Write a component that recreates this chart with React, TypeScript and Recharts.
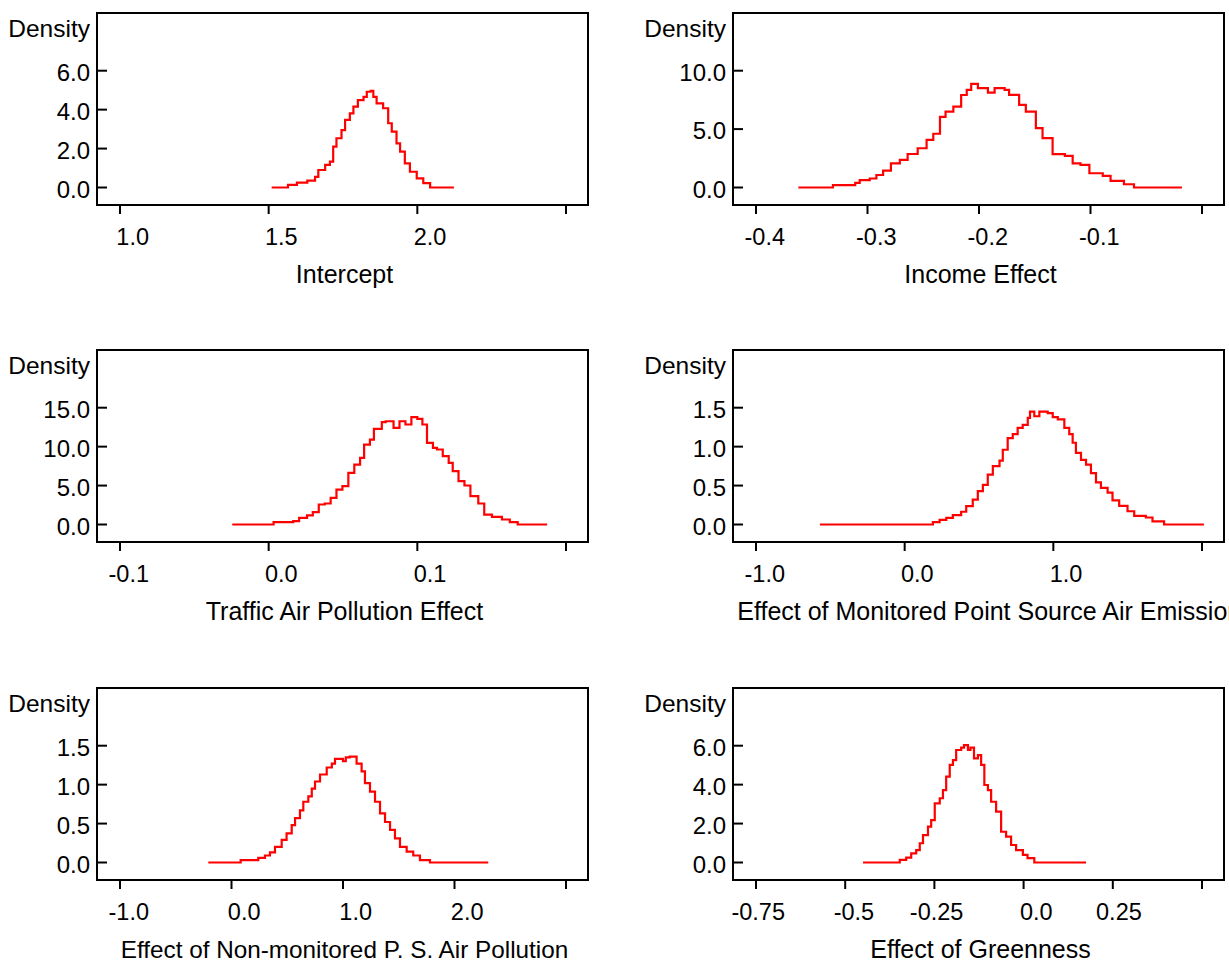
import React from 'react';
import { LineChart, Line, XAxis, YAxis, ReferenceArea } from 'recharts';

const FONT = '"Liberation Sans", Arial, Helvetica, sans-serif';

// Intercept
const interceptX = [1.51, 1.565, 1.595, 1.63, 1.656, 1.667, 1.69, 1.706, 1.717, 1.728, 1.745, 1.757, 1.773, 1.785, 1.8, 1.819, 1.83, 1.843, 1.852, 1.863, 1.885, 1.902, 1.914, 1.93, 1.942, 1.958, 1.975, 1.998, 2.02, 2.043, 2.123];
const interceptDensity = [0, 0.13, 0.25, 0.35, 0.55, 0.9, 1.16, 1.33, 2.1, 2.53, 2.95, 3.47, 3.81, 4.15, 4.49, 4.66, 4.92, 4.97, 4.66, 4.32, 4.07, 3.3, 2.87, 2.27, 1.84, 1.24, 0.81, 0.47, 0.22, 0, 0];
const interceptXTicks = [1.0, 1.5, 2.0, 2.5];
const interceptXLabels = ['1.0', '1.5', '2.0', ''];
const interceptYTicks = [0, 2, 4, 6];
const interceptYLabels = ['0.0', '2.0', '4.0', '6.0'];

// Income Effect
const incomeX = [-0.362, -0.331, -0.311, -0.307, -0.298, -0.292, -0.286, -0.279, -0.271, -0.264, -0.255, -0.247, -0.241, -0.235, -0.23, -0.223, -0.216, -0.211, -0.207, -0.201, -0.192, -0.186, -0.177, -0.173, -0.164, -0.158, -0.149, -0.143, -0.134, -0.123, -0.116, -0.109, -0.101, -0.089, -0.082, -0.07, -0.061, -0.018];
const incomeDensity = [0, 0.2, 0.39, 0.63, 0.77, 1.07, 1.44, 2.07, 2.36, 2.87, 3.36, 4.07, 4.6, 6.05, 6.5, 6.93, 7.92, 8.36, 8.87, 8.51, 8.13, 8.51, 8.36, 7.93, 7.08, 6.5, 5.08, 4.22, 2.86, 2.7, 2.07, 1.93, 1.22, 0.99, 0.57, 0.28, 0, 0];
const incomeXTicks = [-0.4, -0.3, -0.2, -0.1, 0.0];
const incomeXLabels = ['-0.4', '-0.3', '-0.2', '-0.1', ''];
const incomeYTicks = [0, 5, 10];
const incomeYLabels = ['0.0', '5.0', '10.0'];

// Traffic Air Pollution Effect
const trafficX = [-0.0245, 0.0033, 0.0112, 0.0165, 0.0205, 0.0258, 0.0297, 0.0337, 0.0377, 0.0417, 0.0456, 0.0496, 0.0536, 0.0576, 0.0615, 0.0642, 0.0681, 0.0708, 0.0761, 0.0787, 0.084, 0.088, 0.092, 0.096, 0.1, 0.1034, 0.1065, 0.1105, 0.1132, 0.1171, 0.1211, 0.1238, 0.1277, 0.1317, 0.1357, 0.141, 0.145, 0.1502, 0.1569, 0.1622, 0.1675, 0.1873];
const trafficDensity = [0, 0.3, 0.3, 0.43, 0.86, 1.16, 1.58, 2.57, 2.7, 3.42, 4.49, 4.92, 6.63, 7.7, 8.56, 10.27, 10.91, 12.28, 13.14, 13.26, 12.41, 13.26, 12.84, 13.78, 13.56, 12.84, 10.48, 9.84, 9.63, 8.77, 7.92, 6.85, 5.56, 5.01, 3.64, 2.7, 1.28, 0.98, 0.64, 0.3, 0, 0];
const trafficXTicks = [-0.1, 0.0, 0.1, 0.2];
const trafficXLabels = ['-0.1', '0.0', '0.1', ''];
const trafficYTicks = [0, 5, 10, 15];
const trafficYLabels = ['0.0', '5.0', '10.0', '15.0'];

// Effect of Monitored Point Source Air Emissions
const monitoredX = [-0.57, 0.19, 0.235, 0.28, 0.324, 0.38, 0.414, 0.458, 0.492, 0.526, 0.559, 0.593, 0.638, 0.66, 0.693, 0.727, 0.76, 0.794, 0.828, 0.843, 0.872, 0.906, 0.962, 0.996, 1.03, 1.074, 1.107, 1.13, 1.152, 1.186, 1.22, 1.253, 1.287, 1.32, 1.365, 1.398, 1.443, 1.499, 1.544, 1.622, 1.667, 1.745, 2.013];
const monitoredDensity = [0, 0.03, 0.06, 0.086, 0.12, 0.164, 0.236, 0.32, 0.428, 0.51, 0.64, 0.75, 0.82, 0.96, 1.11, 1.16, 1.24, 1.28, 1.37, 1.45, 1.39, 1.45, 1.43, 1.38, 1.35, 1.24, 1.16, 1.05, 0.92, 0.83, 0.77, 0.66, 0.54, 0.47, 0.41, 0.31, 0.24, 0.17, 0.11, 0.09, 0.04, 0, 0];
const monitoredXTicks = [-1.0, 0.0, 1.0, 2.0];
const monitoredXLabels = ['-1.0', '0.0', '1.0', ''];
const monitoredYTicks = [0, 0.5, 1.0, 1.5];
const monitoredYLabels = ['0.0', '0.5', '1.0', '1.5'];

// Effect of Non-monitored P. S. Air Pollution
const nonMonitoredX = [-0.208, 0.082, 0.24, 0.3, 0.345, 0.39, 0.45, 0.494, 0.54, 0.57, 0.614, 0.644, 0.689, 0.72, 0.749, 0.794, 0.854, 0.9, 0.928, 1.0, 1.025, 1.06, 1.122, 1.167, 1.197, 1.242, 1.287, 1.332, 1.377, 1.422, 1.466, 1.511, 1.571, 1.63, 1.69, 1.78, 2.303];
const nonMonitoredDensity = [0, 0.03, 0.06, 0.09, 0.13, 0.2, 0.29, 0.375, 0.48, 0.57, 0.67, 0.78, 0.85, 0.95, 1.04, 1.13, 1.22, 1.27, 1.33, 1.3, 1.35, 1.36, 1.27, 1.17, 1.02, 0.91, 0.78, 0.63, 0.52, 0.42, 0.31, 0.2, 0.14, 0.09, 0.03, 0, 0];
const nonMonitoredXTicks = [-1.0, 0.0, 1.0, 2.0, 3.0];
const nonMonitoredXLabels = ['-1.0', '0.0', '1.0', '2.0', ''];
const nonMonitoredYTicks = [0, 0.5, 1.0, 1.5];
const nonMonitoredYLabels = ['0.0', '0.5', '1.0', '1.5'];

// Effect of Greenness
const greenX = [-0.45, -0.347, -0.329, -0.315, -0.301, -0.291, -0.282, -0.268, -0.259, -0.249, -0.235, -0.226, -0.217, -0.207, -0.198, -0.189, -0.175, -0.167, -0.156, -0.149, -0.139, -0.128, -0.119, -0.11, -0.1, -0.091, -0.077, -0.063, -0.049, -0.035, -0.021, -0.002, 0.011, 0.03, 0.175];
const greenDensity = [0, 0.13, 0.25, 0.47, 0.64, 0.99, 1.41, 1.84, 2.18, 3.04, 3.3, 3.72, 4.41, 5.01, 5.26, 5.78, 5.9, 6.03, 5.78, 5.9, 5.35, 5.52, 5.01, 3.98, 3.72, 3.12, 2.61, 1.58, 1.33, 0.9, 0.64, 0.39, 0.22, 0, 0];
const greenXTicks = [-0.75, -0.5, -0.25, 0.0, 0.25, 0.5];
const greenXLabels = ['-0.75', '-0.5', '-0.25', '0.0', '0.25', ''];
const greenYTicks = [0, 2, 4, 6];
const greenYLabels = ['0.0', '2.0', '4.0', '6.0'];

type PanelProps = {
  title: string;
  xs: number[];
  ys: number[];
  xTicks: number[];
  xLabels: string[];
  yTicks: number[];
  yLabels: string[];
  left: number;
  top: number;
  width: number;
  titleDx?: number;
  titleSize?: number;
};

function Panel({ title, xs, ys, xTicks, xLabels, yTicks, yLabels, left, top, width, titleDx = 2, titleSize = 25 }: PanelProps) {
  const data = xs.map((x, i) => ({ x, d: ys[i] }));
  const xSpan = xTicks[xTicks.length - 1] - xTicks[0];
  const xDomain = [xTicks[0] - (xSpan * 23) / 446, xTicks[xTicks.length - 1] + (xSpan * 22) / 446];
  const yTop = yTicks[yTicks.length - 1];
  const yDomain = [-yTop * 0.1498, yTop * 1.494];

  const xTick = (props: any) => {
    const i = xTicks.indexOf(props.payload.value);
    return (
      <text x={props.x + 29} y={props.y + 31} textAnchor="end" fontSize={23.5} fontFamily={FONT} fill="#000">
        {xLabels[i] ?? ''}
      </text>
    );
  };

  const yTick = (props: any) => {
    const i = yTicks.indexOf(props.payload.value);
    return (
      <g>
        <line x1={props.x} x2={props.x + 10} y1={props.y} y2={props.y} stroke="#000" strokeWidth={2} />
        <text x={props.x - 7} y={props.y + 10} textAnchor="end" fontSize={24} fontFamily={FONT} fill="#000">
          {yLabels[i] ?? ''}
        </text>
      </g>
    );
  };

  return (
    <div style={{ position: 'absolute', left, top }}>
      <LineChart width={width} height={300} data={data} margin={{ top: 13, right: width - 588, left: 7, bottom: 5 }}>
        <XAxis
          dataKey="x"
          type="number"
          domain={xDomain}
          ticks={xTicks}
          interval={0}
          allowDataOverflow
          height={90}
          tickSize={9}
          tickMargin={0}
          axisLine={{ stroke: '#000', strokeWidth: 2 }}
          tickLine={{ stroke: '#000', strokeWidth: 2 }}
          tick={xTick}
          label={{ value: title, position: 'insideBottom', offset: 12, dx: titleDx, fontSize: titleSize, fill: '#000', fontFamily: FONT }}
        />
        <YAxis
          type="number"
          domain={yDomain}
          ticks={yTicks}
          interval={0}
          allowDataOverflow
          width={90}
          tickSize={0}
          tickMargin={0}
          tickLine={false}
          axisLine={{ stroke: '#000', strokeWidth: 2 }}
          tick={yTick}
          label={{ value: 'Density', position: 'insideTopRight', offset: 7, fontSize: 24.5, fill: '#000', fontFamily: FONT }}
        />
        <ReferenceArea x1={xDomain[0]} x2={xDomain[1]} y1={yDomain[0]} y2={yDomain[1]} fill="none" stroke="#000" strokeWidth={2} />
        <Line dataKey="d" type="stepAfter" stroke="#ff0000" strokeWidth={2.2} dot={false} isAnimationActive={false} />
      </LineChart>
    </div>
  );
}

export default function App() {
  return (
    <div style={{ position: 'absolute', left: 0, top: 0, width: 1229, height: 962, overflow: 'hidden', background: '#fff' }}>
      <Panel title="Intercept" xs={interceptX} ys={interceptDensity} xTicks={interceptXTicks} xLabels={interceptXLabels} yTicks={interceptYTicks} yLabels={interceptYLabels} left={0} top={0} width={620} />
      <Panel title="Income Effect" xs={incomeX} ys={incomeDensity} xTicks={incomeXTicks} xLabels={incomeXLabels} yTicks={incomeYTicks} yLabels={incomeYLabels} left={636} top={0} width={593} />
      <Panel title="Traffic Air Pollution Effect" xs={trafficX} ys={trafficDensity} xTicks={trafficXTicks} xLabels={trafficXLabels} yTicks={trafficYTicks} yLabels={trafficYLabels} left={0} top={337} width={620} />
      <Panel title="Effect of Monitored Point Source Air Emissions" xs={monitoredX} ys={monitoredDensity} xTicks={monitoredXTicks} xLabels={monitoredXLabels} yTicks={monitoredYTicks} yLabels={monitoredYLabels} left={636} top={337} width={593} titleDx={17} />
      <Panel title="Effect of Non-monitored P. S. Air Pollution" xs={nonMonitoredX} ys={nonMonitoredDensity} xTicks={nonMonitoredXTicks} xLabels={nonMonitoredXLabels} yTicks={nonMonitoredYTicks} yLabels={nonMonitoredYLabels} left={0} top={675} width={620} titleSize={24.3} />
      <Panel title="Effect of Greenness" xs={greenX} ys={greenDensity} xTicks={greenXTicks} xLabels={greenXLabels} yTicks={greenYTicks} yLabels={greenYLabels} left={636} top={675} width={593} />
    </div>
  );
}
